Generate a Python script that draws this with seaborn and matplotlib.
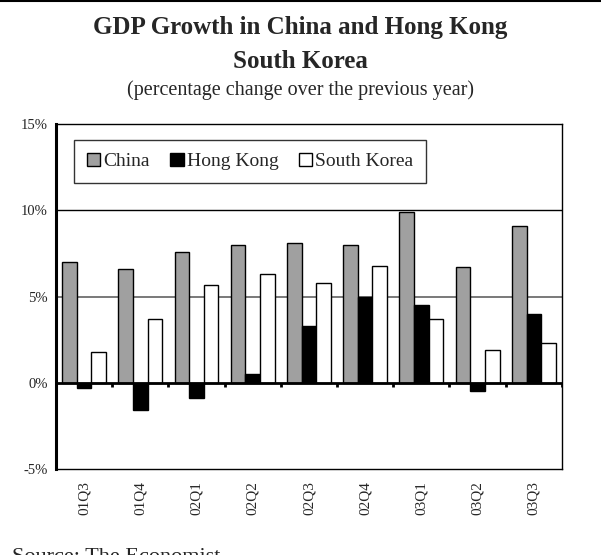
import matplotlib
matplotlib.use("Agg")
import matplotlib.pyplot as plt
import numpy as np
import pandas as pd
import seaborn as sns
from matplotlib.lines import Line2D

quarters = ["01Q3", "01Q4", "02Q1", "02Q2", "02Q3", "02Q4", "03Q1", "03Q2", "03Q3"]
china = [7.0, 6.6, 7.6, 8.0, 8.1, 8.0, 9.9, 6.7, 9.1]
hong_kong = [-0.3, -1.6, -0.9, 0.5, 3.3, 5.0, 4.5, -0.5, 4.0]
south_korea = [1.8, 3.7, 5.7, 6.3, 5.8, 6.8, 3.7, 1.9, 2.3]
series = ["China", "Hong Kong", "South Korea"]
colors = ["#a0a0a0", "#000000", "#ffffff"]

df = pd.DataFrame({
    "quarter": quarters * 3,
    "growth": china + hong_kong + south_korea,
    "country": np.repeat(series, len(quarters)),
})

sns.set_style("white")
plt.rcParams["font.family"] = ["Liberation Serif", "DejaVu Serif"]

fig = plt.figure(figsize=(6.01, 5.55), dpi=100)
ax = fig.add_axes([0.093, 0.155, 0.842, 0.621])

sns.barplot(data=df, x="quarter", y="growth", hue="country", order=quarters,
            hue_order=series, palette=colors, edgecolor="black", linewidth=1,
            width=0.78, saturation=1, ax=ax, zorder=3)

ax.set_ylim(-5, 15)
ax.set_xlim(-0.5, len(quarters) - 0.5)
ax.set_yticks([-5, 0, 5, 10, 15])
ax.set_yticklabels(["-5%", "0%", "5%", "10%", "15%"], fontsize=10.5)
ax.set_xticks(range(len(quarters)))
ax.set_xticklabels(quarters, rotation=90, fontsize=11)
ax.tick_params(axis="x", length=0, pad=9)
ax.tick_params(axis="y", direction="out", length=4, width=2, pad=2)
ax.set_xlabel("")
ax.set_ylabel("")

# gridlines and zero axis
ax.axhline(10, color="black", lw=1, zorder=1)
ax.axhline(5, color="#6e6e6e", lw=1.3, zorder=1)
ax.axhline(0, color="black", lw=2, zorder=4)
ax.vlines(np.arange(len(quarters) + 1) - 0.5, -0.25, 0, color="black", lw=2, zorder=4)

for side in ["top", "right", "bottom"]:
    ax.spines[side].set_color("black")
    ax.spines[side].set_linewidth(1)
ax.spines["left"].set_color("black")
ax.spines["left"].set_linewidth(2.2)

leg = ax.legend(loc="upper left", bbox_to_anchor=(0.036, 0.954), ncol=3,
                fontsize=14, frameon=True, fancybox=False, edgecolor="black",
                handlelength=0.7, handleheight=0.7, handletextpad=0.15,
                columnspacing=1.05, borderpad=0.65, borderaxespad=0)
leg.get_frame().set_linewidth(1)
for h in leg.legend_handles:
    h.set_edgecolor("black")

fig.add_artist(Line2D([0, 1], [0.998, 0.998], color="black", lw=1.5))
fig.text(0.5, 0.950, "GDP Growth in China and Hong Kong", ha="center", va="center",
         fontsize=18, fontweight="bold")
fig.text(0.5, 0.889, "South Korea", ha="center", va="center",
         fontsize=18, fontweight="bold")
fig.text(0.5, 0.838, "(percentage change over the previous year)", ha="center",
         va="center", fontsize=14.5)
fig.text(0.02, 0.012, "Source: The Economist", ha="left", va="top", fontsize=16)

fig.savefig("out.png", dpi=100)
